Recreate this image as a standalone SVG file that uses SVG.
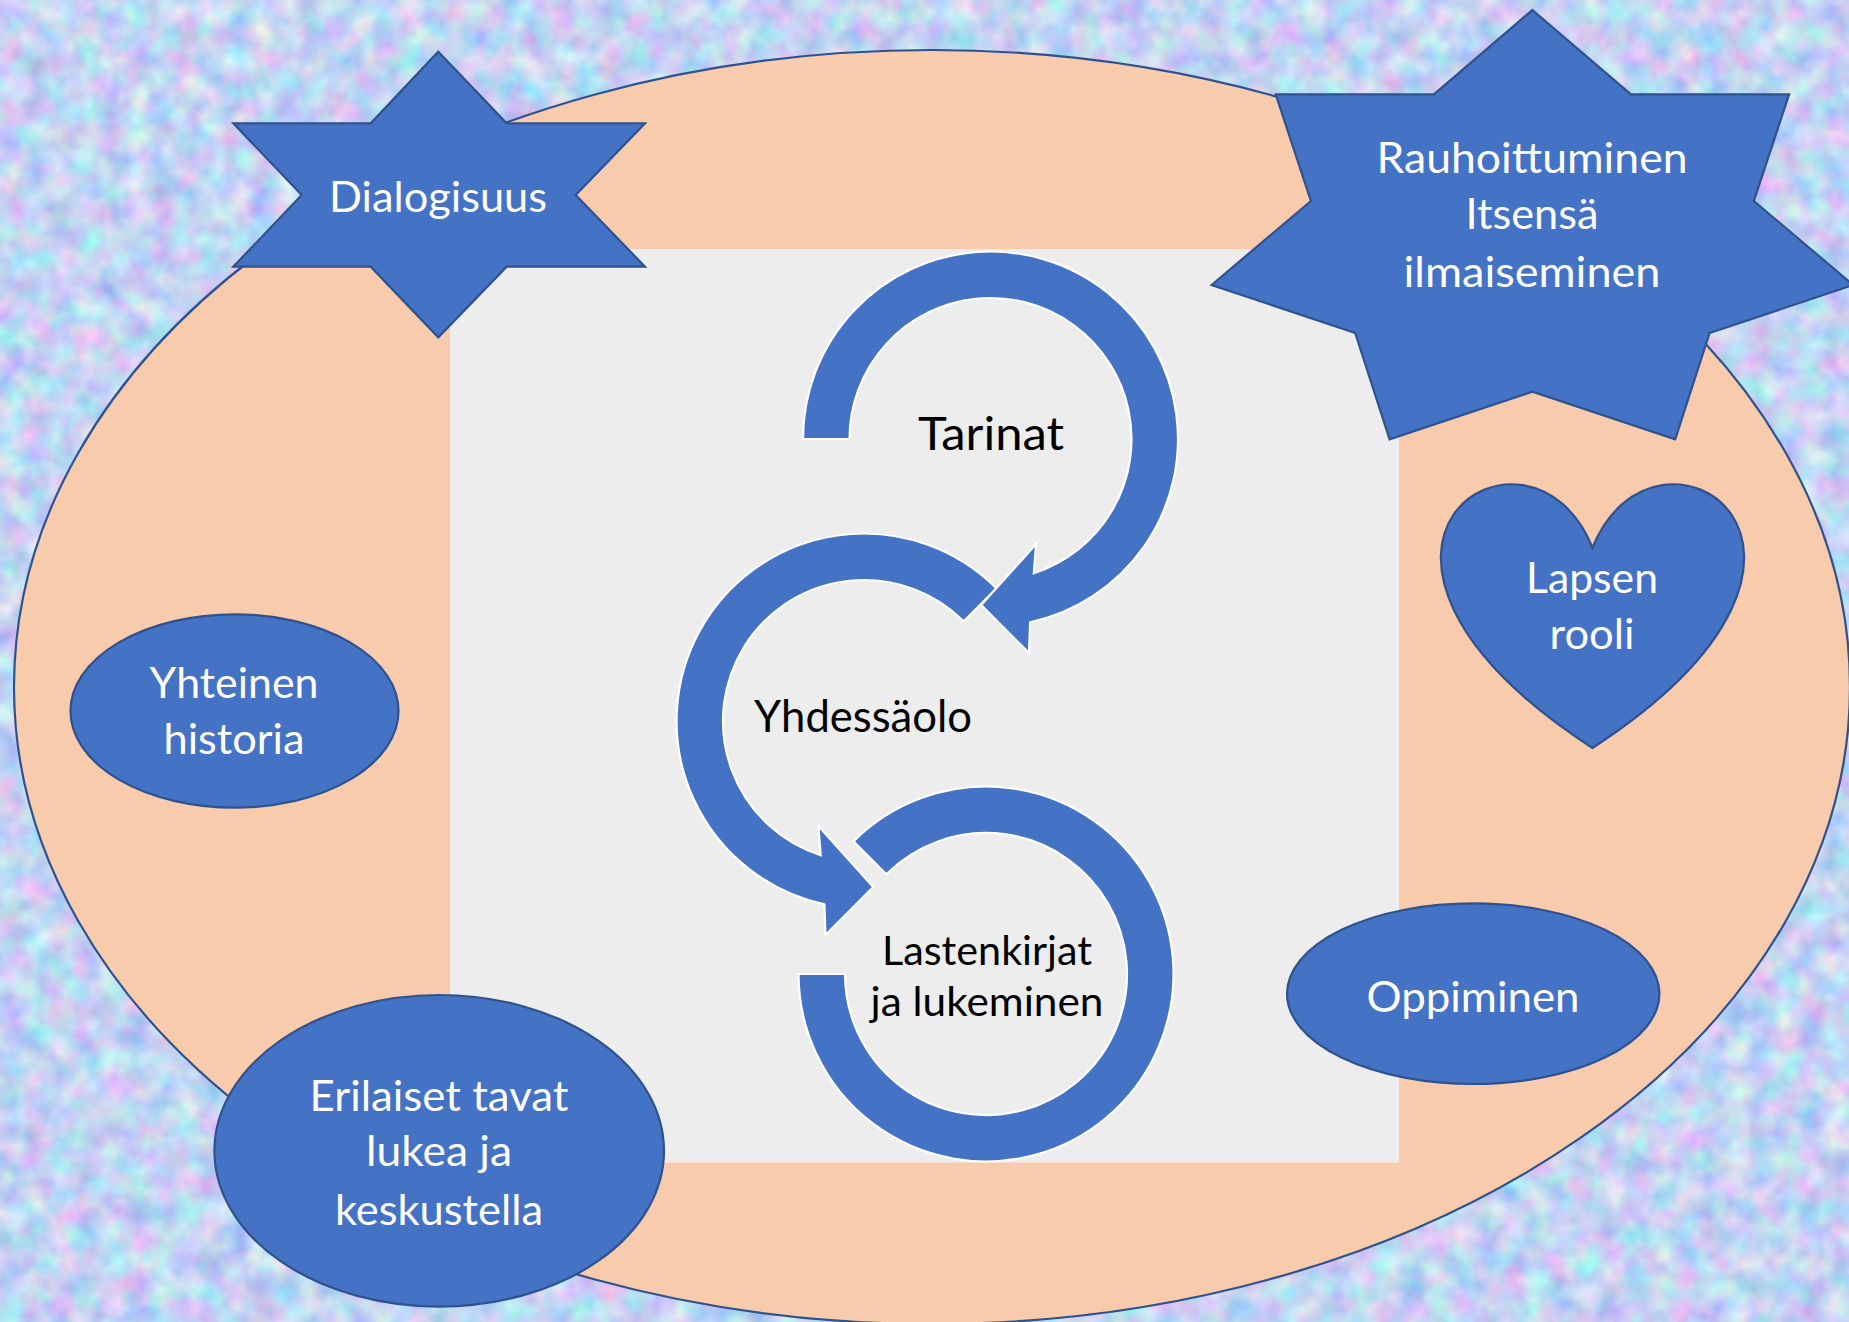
<svg xmlns="http://www.w3.org/2000/svg" width="1849" height="1322" viewBox="0 0 1849 1322">
<style>
.shape{fill:#4472C4;stroke:#2F528F;stroke-width:2.2;stroke-linejoin:miter}
.arrow{fill:#4472C4;stroke:#FFFFFF;stroke-width:2.2;stroke-linejoin:miter}
.lbl{font-family:"Lato","Liberation Sans",sans-serif;fill:#FFFFFF;text-anchor:middle}
.dark{font-family:"Lato","Liberation Sans",sans-serif;fill:#000000;text-anchor:middle}
</style>
<defs>
<filter id="tex" filterUnits="userSpaceOnUse" x="0" y="0" width="1849" height="1322" color-interpolation-filters="sRGB">
<feTurbulence type="fractalNoise" baseFrequency="0.04" numOctaves="3" seed="7" result="n"/>
<feGaussianBlur in="n" stdDeviation="1.5" result="b"/>
<feColorMatrix in="b" type="matrix" values="0.55 0 0 0 0.49  0 0.42 0 0 0.62  0 0 0.15 0 0.875  0 0 0 0 1"/>
</filter>
</defs>
<rect id="background" x="0" y="0" width="1849" height="1322" fill="#C2D4F2"/>
<rect x="0" y="0" width="1849" height="1322" filter="url(#tex)"/>
<g id="outer-ellipse">
<ellipse cx="932" cy="687" rx="918" ry="637" fill="#F8CBAD" stroke="#2F528F" stroke-width="2.2"/>
</g>
<g id="center-panel">
<rect x="450" y="249" width="949" height="913.5" fill="#EDEDED"/>
</g>
<g id="connectors">
<path class="arrow" d="M 853.4,841.4 A 187.5,187.5 0 1 1 798.5,974 L 845,974 A 141,141 0 1 0 886.3,874.3 Z"/>
<path class="arrow" d="M 996.6,588.4 A 187.5,187.5 0 1 0 824.4,904.3 L 825.5,935 L 873.3,887 L 818.4,826 L 820.7,855.2 A 141,141 0 1 1 963.7,621.3 Z"/>
<path class="arrow" d="M 803,439 A 187.5,187.5 0 1 1 1030.1,622.3 L 1029,653 L 981.2,605 L 1036.1,544 L 1033.8,573.2 A 141,141 0 1 0 849.5,439 Z"/>
</g>
<g id="tarinat">
<text class="dark" x="991" y="450" font-size="47" textLength="146" lengthAdjust="spacingAndGlyphs">Tarinat</text>
</g>
<g id="yhdessaolo">
<text class="dark" x="863" y="732" font-size="44" textLength="218" lengthAdjust="spacingAndGlyphs">Yhdessäolo</text>
</g>
<g id="lastenkirjat">
<text class="dark" x="987" y="965" font-size="41" textLength="210" lengthAdjust="spacingAndGlyphs">Lastenkirjat</text>
<text class="dark" x="987" y="1015.5" font-size="41" textLength="233" lengthAdjust="spacingAndGlyphs">ja lukeminen</text>
</g>
<g id="dialogisuus">
<polygon class="shape" points="438.3,51.7 506.7,123.3 645,123.3 575.7,195 645,266.7 506.7,266.7 438.3,337.3 370.7,266.7 233.3,266.7 301.7,195 233.3,123.3 370.7,123.3"/>
<text class="lbl" x="438" y="211.5" font-size="43" textLength="218" lengthAdjust="spacingAndGlyphs">Dialogisuus</text>
</g>
<g id="rauhoittuminen">
<polygon class="shape" points="1532.4,10 1630.9,94.3 1789.1,94.3 1753.9,201 1853.2,285 1709.6,333 1675.2,439.3 1532.4,391.7 1389.6,439.3 1355.2,333 1211.6,285 1310.9,201 1275.7,94.3 1433.9,94.3"/>
<text class="lbl" x="1532" y="172.5" font-size="42" textLength="311" lengthAdjust="spacingAndGlyphs">Rauhoittuminen</text>
<text class="lbl" x="1532" y="228.5" font-size="42" textLength="133" lengthAdjust="spacingAndGlyphs">Itsensä</text>
<text class="lbl" x="1532" y="287" font-size="42" textLength="257" lengthAdjust="spacingAndGlyphs">ilmaiseminen</text>
</g>
<g id="lapsen-rooli">
<path class="shape" d="M 1592.5,547.75 C 1655.2,392 1899.8,547.75 1592.5,748 C 1285.2,547.75 1529.8,392 1592.5,547.75 Z"/>
<text class="lbl" x="1592" y="592.5" font-size="43" textLength="132" lengthAdjust="spacingAndGlyphs">Lapsen</text>
<text class="lbl" x="1592" y="648.5" font-size="43" textLength="85" lengthAdjust="spacingAndGlyphs">rooli</text>
</g>
<g id="yhteinen-historia">
<ellipse class="shape" cx="234.5" cy="711" rx="164" ry="96.7"/>
<text class="lbl" x="234" y="698.3" font-size="43" textLength="169" lengthAdjust="spacingAndGlyphs">Yhteinen</text>
<text class="lbl" x="234" y="754.3" font-size="43" textLength="141" lengthAdjust="spacingAndGlyphs">historia</text>
</g>
<g id="erilaiset-tavat">
<ellipse class="shape" cx="439.2" cy="1150.8" rx="224.8" ry="155.8"/>
<text class="lbl" x="439" y="1110.7" font-size="43" textLength="259" lengthAdjust="spacingAndGlyphs">Erilaiset tavat</text>
<text class="lbl" x="439" y="1165.7" font-size="43" textLength="146" lengthAdjust="spacingAndGlyphs">lukea ja</text>
<text class="lbl" x="439" y="1225" font-size="43" textLength="208" lengthAdjust="spacingAndGlyphs">keskustella</text>
</g>
<g id="oppiminen">
<ellipse class="shape" cx="1473.2" cy="993.7" rx="186.2" ry="90.3"/>
<text class="lbl" x="1473" y="1011.7" font-size="43" textLength="213" lengthAdjust="spacingAndGlyphs">Oppiminen</text>
</g>
</svg>
